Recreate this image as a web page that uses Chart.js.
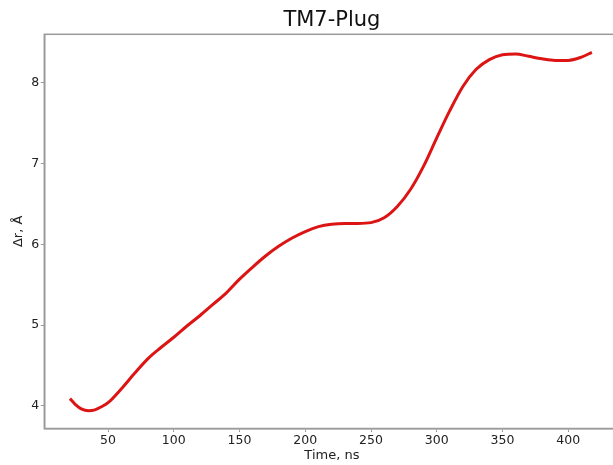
<!DOCTYPE html>
<html>
<head>
<meta charset="utf-8">
<script src="https://cdn.jsdelivr.net/npm/chart.js@4"></script>
<style>
  html, body { margin: 0; padding: 0; background: #fff; overflow: hidden; }
  #plot { display: block; }
</style>
</head>
<body>
<canvas id="plot" width="640" height="465"></canvas>
<script>
// distance vs simulation time
const times = [21, 25, 30, 35, 40, 45, 50, 60, 70, 80, 90, 100, 110, 120, 130, 140, 150, 160, 170, 180,
  190, 200, 210, 220, 230, 240, 250, 260, 270, 280, 290, 300, 310, 320, 330, 340, 350, 360, 370, 380,
  390, 400, 410, 418];
const deltaR = [4.09, 4.02, 3.96, 3.94, 3.95, 3.99, 4.04, 4.21, 4.40, 4.58, 4.72, 4.85, 4.99, 5.12, 5.26, 5.40, 5.57, 5.72, 5.86, 5.98,
  6.08, 6.16, 6.22, 6.25, 6.26, 6.26, 6.27, 6.33, 6.47, 6.68, 6.97, 7.32, 7.66, 7.96, 8.17, 8.29, 8.35, 8.36, 8.33, 8.30,
  8.28, 8.28, 8.32, 8.38];
const xTicks = [50, 100, 150, 200, 250, 300, 350, 400];
const yTicks = [4, 5, 6, 7, 8];

const axisGrey = '#9a9a9a';
const textDark = '#222';

// box around the plot area (top spine, like matplotlib)
const frame = {
  id: 'frame',
  afterDraw(chart) {
    const {ctx, chartArea: a} = chart;
    ctx.save();
    ctx.strokeStyle = axisGrey;
    ctx.lineWidth = 1.5;
    ctx.strokeRect(a.left, a.top, a.right - a.left, a.bottom - a.top);
    ctx.restore();
  }
};

const data = {
  datasets: [{
    label: 'TM7-Plug',
    data: times.map((t, i) => ({x: t, y: deltaR[i]})),
    borderColor: '#dc1414',
    borderWidth: 3,
    pointRadius: 0,
    fill: false,
    cubicInterpolationMode: 'monotone'
  }]
};

const config = {
  type: 'line',
  data: data,
  options: {
    responsive: false,
    animation: false,
    devicePixelRatio: 1,
    layout: { padding: { left: 0, top: 0, right: 20.5, bottom: 0 } },
    plugins: {
      legend: { display: false },
      tooltip: { enabled: false },
      title: {
        display: true,
        text: 'TM7-Plug',
        fullSize: false,
        color: '#111',
        font: { family: 'DejaVu Sans', size: 21, weight: 'normal', lineHeight: 1.2 },
        padding: { top: 8, bottom: 1.1 }
      }
    },
    scales: {
      x: {
        type: 'linear',
        min: 1.5,
        max: 439,
        afterBuildTicks: axis => { axis.ticks = xTicks.map(v => ({value: v})); },
        afterFit: scale => { scale.height = 36.5; },
        grid: { drawOnChartArea: false, drawTicks: true, tickLength: 3.5, color: axisGrey },
        border: { display: true, color: axisGrey, width: 1.5 },
        ticks: {
          color: textDark,
          padding: 1,
          maxRotation: 0,
          font: { family: 'DejaVu Sans', size: 12.5 }
        },
        title: {
          display: true,
          text: 'Time, ns',
          color: textDark,
          font: { family: 'DejaVu Sans', size: 13, lineHeight: 1.2 },
          padding: { top: 0, bottom: 1.2 }
        }
      },
      y: {
        min: 3.72,
        max: 8.603,
        afterBuildTicks: axis => { axis.ticks = yTicks.map(v => ({value: v})); },
        afterFit: scale => { scale.width = 44.3; },
        grid: { drawOnChartArea: false, drawTicks: true, tickLength: 3.5, color: axisGrey },
        border: { display: true, color: axisGrey, width: 1.5 },
        ticks: {
          color: textDark,
          padding: 1.5,
          font: { family: 'DejaVu Sans', size: 12.5 }
        },
        title: {
          display: true,
          text: 'Δr, Å',
          color: textDark,
          font: { family: 'DejaVu Sans', size: 13, lineHeight: 1.2 },
          padding: { top: 11.2, bottom: 0 }
        }
      }
    }
  },
  plugins: [frame]
};

let ctx = document.getElementById('plot').getContext('2d');
let chart = new Chart(ctx, config);
</script>
</body>
</html>
